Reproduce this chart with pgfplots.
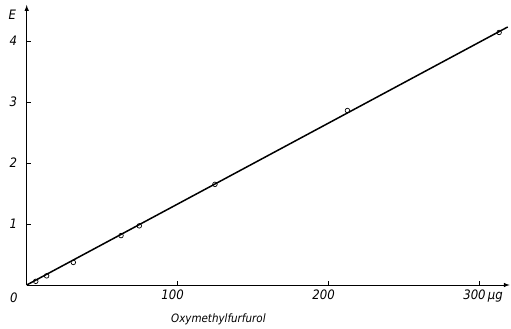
\documentclass[border=0pt]{standalone}
\usepackage{pgfplots}
\pgfplotsset{compat=1.18}
\usepackage{fontspec}
\setmainfont{DejaVu Sans Condensed}
\begin{document}
\begin{tikzpicture}[x=1pt,y=1pt]
\begin{axis}[
  scale only axis,
  width=483pt, height=280pt,
  xmin=0, xmax=320, ymin=0, ymax=4.59,
  axis lines=left,
  axis line style={line width=1pt, -latex},
  tick align=inside,
  major tick length=4pt,
  tick style={line width=0.6pt, black},
  xtick={100,200,300},
  xticklabels={100,200,{300\rlap{\,µg}}},
  ytick={1,2,3,4},
  yticklabels={1,2,3,4},
  ticklabel style={font=\itshape\fontsize{13}{13}\selectfont},
  x tick label style={xshift=-5pt, yshift=-1pt},
  y tick label style={xshift=-6pt},
  clip=false,
]
\addplot[black, line width=1.5pt, no marks] coordinates {(0,0) (318.7,4.23)};
\addplot[only marks, mark=o, mark size=2.3pt, mark options={fill=white, line width=0.7pt}, black]
  coordinates {
  (6,0.06) (13.2,0.15) (30.9,0.37) (62.5,0.81) (74.6,0.97)
  (124.7,1.65) (212.5,2.86) (313,4.14)
  };
\node[font=\itshape\fontsize{13}{13}\selectfont, anchor=center] at (axis cs:-8.5,-0.21) {0};
\node[font=\itshape\fontsize{13}{13}\selectfont, anchor=center] at (axis cs:-9.5,4.43) {E};
\node[font=\itshape\fontsize{11.5}{11.5}\selectfont, anchor=center] at (axis cs:127,-0.57) {Oxymethylfurfurol};
\end{axis}
\pgfresetboundingbox
\path (-26.7pt,-44pt) rectangle (484.3pt,285pt);
\end{tikzpicture}
\end{document}
